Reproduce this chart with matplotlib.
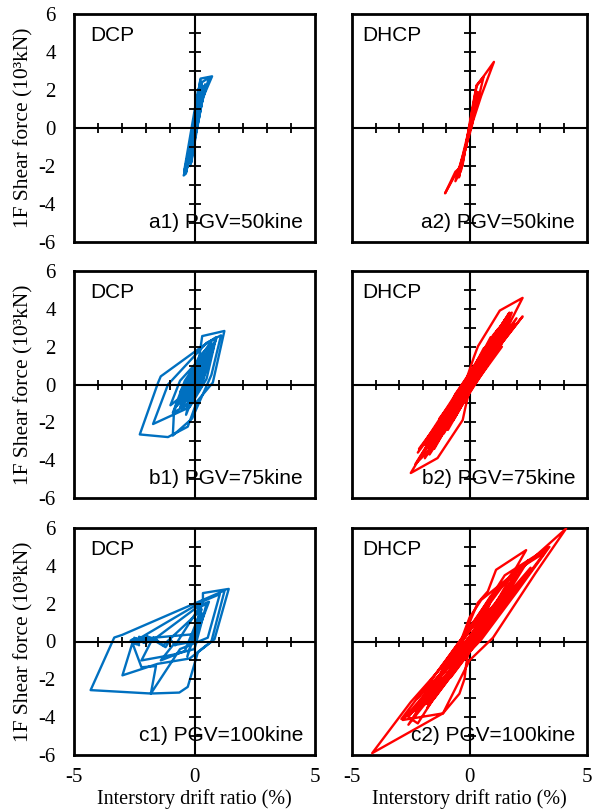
import matplotlib
matplotlib.use("Agg")
import matplotlib.pyplot as plt

# ---------------- data (interstory drift ratio %, 1F shear force 10^3 kN) ----------------
a1_drift = [0, 0.1, -0.2, 0.18, -0.28, 0.25, 0.73, 0.35, 0.2, -0.1, -0.45, -0.4, -0.2, 0.05, 0.3, 0.6, 0.3, 0.0,
            -0.35, -0.25, 0.1, 0.3, 0.15, -0.15, -0.4, -0.05, 0.25, 0.1, -0.25, 0.0, 0.22, -0.05, -0.3, 0.05,
            -0.42, 0.44, -0.17, 0.24, -0.38, 0.35, -0.13, 0.15, -0.42, 0.35, -0.15,
            0.38, -0.32, 0.2, -0.22, 0.3, -0.36, 0.0]
a1_shear = [0, 1.0, -1.3, 1.8, -1.9, 2.6, 2.72, 1.6, 0.6, -1.2, -2.5, -2.45, -1.0, 0.9, 2.4, 2.65, 1.3, -0.6,
            -2.3, -1.3, 1.3, 2.3, 0.7, -1.3, -2.3, 0.0, 1.9, 0.4, -1.8, 0.3, 1.6, -0.5, -2.0, 0.6,
            -2.3, 2.3, -2.0, 2.5, -2.4, 2.2, -1.8, 2.0, -2.2, 1.8, -1.5,
            2.0, -2.1, 2.2, -1.4, 1.5, -2.4, 0.0]

a2_drift = [0, 0.2, -0.15, 0.3, 1.04, 0.5, 0.0, -0.4, -1.04, -0.6, -0.3, 0.0, 0.3, 0.6, 0.35, -0.1, -0.35, -0.6,
            -0.3, 0.05, 0.35, 0.1, -0.25, -0.45, -0.1, 0.2, 0.0]
a2_shear = [0, 1.2, -1.0, 2.2, 3.48, 1.7, -0.2, -2.0, -3.44, -2.3, -2.0, 0.2, 2.25, 2.7, 1.4, -0.6, -2.2, -2.8,
            -1.5, 0.3, 1.9, 0.1, -1.4, -2.6, -0.7, 1.2, 0.0]

b1_drift = [0, 0.4, -0.4, 0.6, -0.6, 0.0, 0.32, 1.24, 0.76, 0.1, -0.28, -1.1, -2.27, -1.51, -1.4, 0.3, 0.9, 0.5,
            -0.2, -1.72, -1.1, 0.5, 1.1, 0.7, -0.1, -0.9, -0.85, 0.2, 0.6, 0.2, -0.5, -0.3, 0.3, -0.4, -1.0, -0.6,
            0.4, -0.5, 0.5, 0.3, -0.7, -0.2, 0.6, 0.4, -0.3, -0.6, 0.2, 0.8, 0.3, -0.2, -0.9, -0.4, 0.7, 0.5, -0.1,
            -0.8, 0.9, -0.35, 0.1, -0.7, 0.55, 0.0]
b1_shear = [0, 1.2, -0.9, 1.9, -1.2, -0.3, 2.56, 2.83, 0.1, -0.9, -2.23, -2.78, -2.64, 0.1, 0.43, 2.0, 2.5, 0.3,
            -1.2, -2.09, 0.0, 2.2, 2.6, 0.5, -1.8, -2.7, -1.4, 1.5, 2.0, -0.3, -1.3, -0.6, 1.2, -0.5, -1.1, 0.2,
            1.6, -0.3, 1.5, -0.1, -0.9, 0.2, 1.8, 0.5, -0.9, -0.4, 1.3, 2.0, 0.0, -1.0, -1.5, 0.2, 2.3, 0.8, -0.4,
            -1.2, 2.4, -1.6, 0.9, -1.0, 1.1, 0.0]

b2_drift = [0, 0.5, -0.4, 0.8, -0.7, 0.19, 0.36, 1.29, 2.26, 1.2, 0.0, -0.17, -0.29, -1.36, -2.5, -1.4, -0.2, 1.0, 1.8,
            1.3, 0.3, -0.7, -1.9, -1.2, 0.2, 1.5, 0.8, -0.4, -1.5, -0.8, 0.6, 1.1, 0.0, -1.0, -0.3, 0.4, -0.6, 0.9,
            0.3, -0.6, 0.9, -0.9, 1.4, -1.3, 1.7, -1.6, 0.5, 1.2, -0.3, -1.1, 0.7, 1.6, -0.2, -1.8, -0.6, 0.2, -0.9,
            0.4, -0.1, 1.0, -0.7, 0.3,
            -1.85, 1.95, -1.49, 1.59, -2.15, 2.26, -1.38, 1.49, -2.05, 1.64, -1.28, 1.38, -1.49, 1.74, -0.92, 0.51,
            -0.51, 1.13, -1.49,
            -2.3, 1.7, -1.1, 2.0, -1.7, 1.2, -2.2, 1.9, -0.8, 0.9, -1.9, 1.5, -1.3, 0.0]
b2_shear = [0, 1.6, -1.2, 2.0, -1.8, 1.46, 2.02, 3.91, 4.58, 2.0, -0.3, -1.18, -1.88, -3.89, -4.68, -2.4, -0.1, 2.6, 3.8,
            2.3, 0.3, -1.6, -3.9, -2.2, 0.6, 3.3, 1.4, -1.0, -3.4, -1.4, 1.9, 2.4, 0.0, -2.4, -0.6, 1.0, -1.6, 2.2,
            1.2, -1.0, 2.5, -2.2, 3.0, -2.8, 3.6, -3.4, 0.6, 2.9, -0.2, -2.6, 1.2, 3.5, -0.8, -3.7, -0.5, 0.9, -1.5,
            1.4, -0.6, 1.8, -1.9, 0.2,
            -3.0, 3.2, -2.6, 2.8, -3.4, 3.6, -2.2, 2.4, -3.8, 3.0, -1.8, 2.0, -2.9, 3.4, -2.4, 1.6,
            -1.4, 2.6, -3.2,
            -4.2, 3.8, -1.6, 3.5, -3.7, 2.9, -3.6, 3.2, -2.0, 2.3, -3.2, 3.4, -2.1, 0.0]

c1_drift = [0, 0.3, -0.3, 0.35, 0.35, 1.42, 0.83, 0.14, -0.28, -0.63, -1.81, -4.31, -3.33, -3.0, 0.35, 1.25, 0.7, -0.2,
            -1.53, -2.99, -2.57, 0.3, 1.05, 0.55, -0.6, -1.81, -1.6, -2.2, -2.6, -2.4, -2.65, -2.3, -2.55, -2.1, -2.4,
            -1.9, -2.1, -1.6, -1.2, -1.0, -0.8, 0.2, 0.5, 0.0, -0.9, -2.2, -1.8, 0.2, 0.6, 0.1,
            -2.6, -2.3, -2.5, -2.0, -2.3, -1.8, -2.0, -1.5, -1.7, -1.3, 0.3, -0.4, -1.4, -0.9, 0.0]
c1_shear = [0, 1.5, -0.8, 2.2, 2.56, 2.78, 0.12, -0.57, -2.4, -2.7, -2.75, -2.57, 0.21, 0.35, 2.2, 2.7, 0.0, -0.9,
            -1.18, -1.79, -0.05, 2.1, 2.5, 0.2, -0.4, -2.75, -1.3, -1.36, 0.0, -0.15, 0.05, -0.1, 0.1, -0.05, 0.15,
            0.0, 0.2, 0.0, -0.3, 0.1, -0.2, 1.8, 2.0, -0.4, -0.7, -1.0, 0.0, 1.9, 2.1, 0.4,
            0.1, -0.2, 0.2, -0.1, 0.25, 0.05, 0.3, 0.0, 0.2, -0.2, 1.7, -0.5, -1.0, -0.2, 0.0]

c2_drift = [0, 0.6, -0.5, 1.0, -1.0, 0.35, 0.78, 1.13, 2.41, 1.2, 0.0, -0.14, -0.21, -0.43, -1.13, -2.84, -1.5, 0.0, 1.5,
            3.4, 2.0, 0.5, -0.8, -2.2, -2.6, -1.0, 0.9, 4.11, 2.8, 1.0, 0.0, -1.13, -4.14, -2.5, -0.5, 0.0, 0.5, 2.0,
            1.0, -0.3, -2.0, -1.0, 0.8, 1.5, 0.2, -1.2,
            1.5, -1.8, 2.5, 0.8, -2.6, -0.5, 1.8, 3.2, 1.5, -1.5, -2.9, -1.0, 1.0, 0.3,
            -2.5, 2.0, -1.8, 2.6, -1.2, 1.3, -2.2, 1.8, -0.8, 0.9, -1.6, 0.0]
c2_shear = [0, 1.6, -1.3, 2.4, -2.0, 2.04, 2.65, 3.79, 4.83, 2.2, -0.3, -1.19, -1.97, -2.76, -3.8, -4.15, -2.2, 0.6, 3.5,
            5.0, 2.6, 0.1, -1.6, -4.33, -4.0, -1.3, 2.4, 5.97, 3.6, 0.2, -1.0, -3.8, -5.9, -3.2, -0.4, 1.26, 2.2, 3.7,
            1.4, -0.7, -3.3, -1.4, 1.6, 2.5, 0.3, -2.4,
            2.0, -3.5, 4.3, 0.9, -4.4, -0.3, 3.6, 4.7, 1.9, -3.0, -4.1, -1.0, 2.5, 0.0,
            -3.8, 3.5, -3.3, 3.9, -1.6, 2.9, -3.0, 2.4, -1.9, 1.2, -2.4, 0.0]

system_labels = ["DCP", "DHCP"]
panel_labels = [["a1) PGV=50kine", "a2) PGV=50kine"],
                ["b1) PGV=75kine", "b2) PGV=75kine"],
                ["c1) PGV=100kine", "c2) PGV=100kine"]]
series = [[(a1_drift, a1_shear), (a2_drift, a2_shear)],
          [(b1_drift, b1_shear), (b2_drift, b2_shear)],
          [(c1_drift, c1_shear), (c2_drift, c2_shear)]]
colors = ["#0070C0", "#FF0000"]

x_ticks = [-5, 0, 5]
y_ticks = [-6, -4, -2, 0, 2, 4, 6]
x_minor = [-4, -3, -2, -1, 1, 2, 3, 4]
y_minor = [-5, -4, -3, -2, -1, 1, 2, 3, 4, 5]

# ---------------- layout ----------------
W, H = 598, 811
fig = plt.figure(figsize=(W / 100, H / 100), dpi=100)
col_x = [(74, 315), (352, 587)]
row_y = [(14, 242), (271, 498), (528, 755)]

serif = "Liberation Serif"
sans = "Liberation Sans"

for r in range(3):
    for c in range(2):
        x0, x1 = col_x[c]
        y0, y1 = row_y[r]
        ax = fig.add_axes([x0 / W, 1 - y1 / H, (x1 - x0) / W, (y1 - y0) / H])
        ax.set_xlim(-5, 5)
        ax.set_ylim(-6, 6)
        ax.set_xticks(x_ticks)
        ax.set_yticks(y_ticks)
        ax.set_xticklabels([str(v) for v in x_ticks], fontfamily=serif, fontsize=15)
        ax.set_yticklabels([str(v) for v in y_ticks], fontfamily=serif, fontsize=15)
        ax.tick_params(axis="y", length=0, pad=13, labelleft=(c == 0))
        ax.tick_params(axis="x", length=0, pad=9, labelbottom=(r == 2))
        for s in ax.spines.values():
            s.set_linewidth(2.0)

        dz = 1 if c == 0 else 3
        xs, ys = series[r][c]
        ax.plot(xs, ys, color=colors[c], lw=1.7, zorder=dz)

        # axes through origin with crossing ticks
        ax.axhline(0, color="black", lw=1.5, zorder=2)
        ax.axvline(0, color="black", lw=1.5, zorder=2)
        ax.plot(x_minor, [0] * len(x_minor), ls="none", marker="|", ms=7, mew=1.3, color="black", zorder=2)
        ax.plot([0] * len(y_minor), y_minor, ls="none", marker="_", ms=8, mew=1.3, color="black", zorder=2)

        left_pad = 16 if c == 0 else 10
        ax.text(left_pad / (x1 - x0), 1 - 12 / (y1 - y0), system_labels[c], transform=ax.transAxes,
                ha="left", va="top", fontfamily=sans, fontsize=15, zorder=5)
        ax.text(1 - 12 / (x1 - x0), 10 / (y1 - y0), panel_labels[r][c], transform=ax.transAxes,
                ha="right", va="bottom", fontfamily=sans, fontsize=15, zorder=5)

        if c == 0:
            ax.set_ylabel("1F Shear force (10³kN)", fontfamily=serif, fontsize=15.5)
            ax.yaxis.set_label_coords(-0.17, 0.5)
        if r == 2:
            ax.set_xlabel("Interstory drift ratio (%)", fontfamily=serif, fontsize=14.5)
            ax.xaxis.set_label_coords(0.5, -0.152)

fig.savefig("out.png", dpi=100)
